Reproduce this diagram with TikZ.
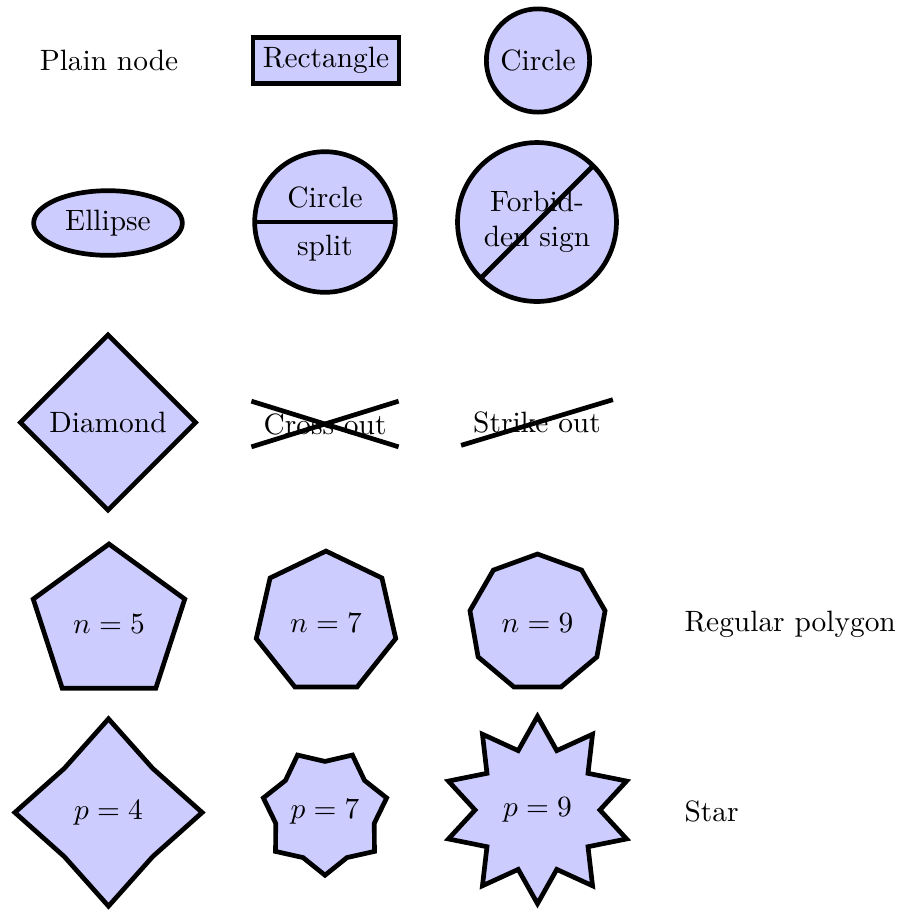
\documentclass[tikz,border=0pt]{standalone}
\usetikzlibrary{shapes}
\begin{document}
\begin{tikzpicture}[x=0.3401pt,y=-0.3401pt,
  shp/.style={draw,fill=blue!20,line width=1.6pt},
  outl/.style={draw,line width=1.6pt},
  sidelabel/.style={anchor=base west,inner sep=0pt}]
\useasboundingbox (0,0) rectangle (903,911);
% row 1
\node (plain) at (109,60.5) {Plain node};
\node[shp,rectangle] (rect) at (326,60.5) {Rectangle};
\node[shp,circle] (circ) at (538,60.5) {Circle};
% row 2
\node[shp,ellipse] (ell) at (108,223) {Ellipse};
\node[shp,circle split,inner sep=3.8pt] (split) at (325,222) {Circle \nodepart{lower} split};
\node[shp,forbidden sign,text width=4em,align=center] (forb) at (537,222) {Forbid-\\den sign};
% row 3
\node[shp,diamond] (dia) at (108,422.5) {Diamond};
\node[outl,cross out] (cross) at (325,424) {Cross out};
\node[outl,strike out] (strike) at (537,422.5) {Strike out};
% row 4
\node[shp,regular polygon,regular polygon sides=5,minimum size=53.4pt] (n5) at (109,623.7) {$n=5$};
\node[shp,regular polygon,regular polygon sides=7,minimum size=48.2pt] (n7) at (326,622.6) {$n=7$};
\node[shp,regular polygon,regular polygon sides=9,minimum size=46.3pt] (n9) at (537.5,622.6) {$n=9$};
\node[sidelabel] (rp) at (684,631) {Regular polygon};
% row 5
\node[shp,star,star points=4,star point ratio=1.5,minimum size=63pt] (p4) at (108.5,812.5) {$p=4$};
\node[shp,star,star points=7,star point ratio=1.25,shape border rotate=180,inner sep=0pt,minimum size=43pt] (p7) at (325,812) {$p=7$};
\node[shp,star,star points=10,star point ratio=1.5,minimum size=61.3pt] (p9) at (537.5,810) {$p=9$};
\node[sidelabel] (st) at (684,821) {Star};
\end{tikzpicture}
\end{document}
